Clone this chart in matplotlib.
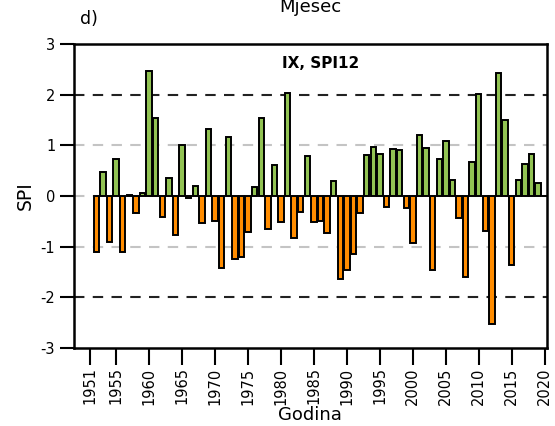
import numpy as np
import matplotlib
matplotlib.use("Agg")
import matplotlib.pyplot as plt

plt.rcParams['axes.unicode_minus'] = False
plt.rcParams['font.family'] = 'DejaVu Sans'

# SPI12 for September, 1952-2020
years = list(range(1952, 2021))
spi = [-1.10, 0.47, -0.91, 0.74, -1.10, 0.01, -0.34, 0.05, 2.47, 1.54,
       -0.42, 0.36, -0.76, 1.00, -0.03, 0.20, -0.53, 1.33, -0.49, -1.43,
       1.16, -1.24, -1.21, -0.72, 0.18, 1.53, -0.65, 0.61, -0.51, 2.03,
       -0.82, -0.31, 0.79, -0.51, -0.49, -0.74, 0.30, -1.63, -1.46, -1.14,
       -0.34, 0.80, 0.97, 0.82, -0.21, 0.93, 0.90, -0.23, -0.92, 1.20,
       0.95, -1.46, 0.73, 1.08, 0.31, -0.44, -1.59, 0.68, 2.01, -0.70,
       -2.53, 2.43, 1.50, -1.36, 0.32, 0.63, 0.82, 0.25, 0.0]
xticks = [1951, 1955, 1960, 1965, 1970, 1975, 1980, 1985, 1990, 1995,
          2000, 2005, 2010, 2015, 2020]

green = '#92c353'
orange = '#ff8c00'

fig = plt.figure(figsize=(5.55, 4.26), dpi=100)
ax = fig.add_axes([0.1333, 0.1831, 0.8517, 0.7136])

vals = np.array(spi)
cols = [green if v >= 0 else orange for v in vals]
ax.bar(years, vals, width=0.82, color=cols, edgecolor='black', linewidth=1.4, zorder=3)

for y in [-1, 0, 1]:
    ax.axhline(y, color='#c4c4c4', linestyle=(0, (5, 4)), linewidth=1.5, zorder=1)
for y in [-2, 2]:
    ax.axhline(y, color='#222222', linestyle=(0, (5, 4)), linewidth=1.5, zorder=1)

ax.set_xlim(1948.6, 2020.3)
ax.set_ylim(-3, 3)
ax.set_yticks([-3, -2, -1, 0, 1, 2, 3])
ax.set_xticks(xticks)
ax.set_xticklabels([str(t) for t in xticks], rotation=90, fontsize=10.5)
ax.tick_params(axis='y', labelsize=10.5, length=10, width=1.5)
ax.tick_params(axis='x', length=12, width=1.5, pad=2)
for s in ax.spines.values():
    s.set_linewidth(1.8)

ax.set_ylabel('SPI', fontsize=13.5)
ax.set_xlabel('Godina', fontsize=13, labelpad=1)
ax.text(1986, 2.62, 'IX, SPI12', ha='center', va='center', fontsize=11, fontweight='bold')

fig.text(0.559, 1 - 12 / 426, 'Mjesec', ha='center', va='baseline', fontsize=13)
fig.text(0.145, 1 - 24 / 426, 'd)', ha='left', va='baseline', fontsize=12.5)

fig.savefig('out.png', dpi=100)
